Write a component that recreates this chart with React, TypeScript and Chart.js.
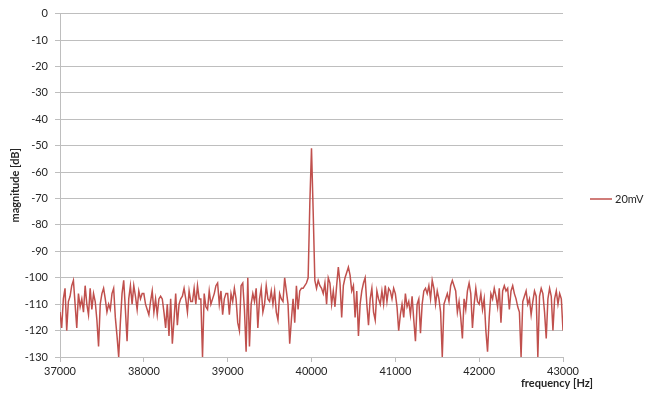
import React, { useEffect, useRef } from "react";
import { Chart, registerables } from "chart.js";

Chart.register(...registerables);

const FREQ_START = 37000;
const FREQ_STEP = 20;
const SERIES_LABEL = "20mV";
const X_TICKS = [37000, 38000, 39000, 40000, 41000, 42000, 43000];
const Y_MIN = -130;
const Y_MAX = 0;

const mag37k = [
  -113, -119, -108, -104, -120, -109, -107, -103, -101, -110,
  -119, -106, -111, -108, -113, -103, -110, -114, -104, -112,
  -106, -109, -116, -126, -110, -106, -104, -108, -113, -110,
  -112, -106, -104, -115, -122, -130, -117, -106, -101, -112,
  -124, -108, -103, -110, -103, -107, -112, -105, -108, -106,
];
const mag38k = [
  -106, -110, -112, -114, -109, -105, -113, -108, -114, -108,
  -107, -108, -113, -119, -110, -122, -108, -125, -116, -106,
  -118, -110, -108, -107, -104, -108, -113, -105, -109, -109,
  -104, -110, -103, -108, -108, -130, -106, -111, -112, -105,
  -110, -108, -106, -103, -102, -110, -105, -114, -108, -106,
];
const mag39k = [
  -106, -114, -106, -109, -104, -108, -117, -120, -103, -102,
  -112, -128, -100, -126, -110, -106, -109, -104, -119, -108,
  -104, -113, -110, -103, -108, -109, -105, -110, -105, -113,
  -116, -106, -108, -109, -100, -105, -110, -125, -116, -108,
  -117, -103, -112, -105, -104, -104, -103, -102, -100, -72,
];
const mag40k = [
  -51, -75, -101, -104, -101, -103, -104, -106, -102, -110,
  -100, -102, -110, -105, -111, -103, -96, -102, -115, -103,
  -100, -98, -96, -99, -105, -103, -115, -105, -122, -110,
  -105, -102, -100, -110, -118, -108, -104, -113, -116, -105,
  -108, -110, -105, -110, -103, -109, -104, -105, -108, -104,
];
const mag41k = [
  -106, -111, -120, -114, -110, -115, -106, -111, -109, -114,
  -107, -116, -124, -110, -108, -121, -110, -105, -104, -106,
  -103, -108, -101, -104, -110, -105, -108, -113, -130, -110,
  -108, -106, -109, -103, -101, -103, -105, -113, -109, -115,
  -123, -108, -112, -105, -102, -106, -119, -110, -104, -109,
];
const mag42k = [
  -110, -106, -112, -108, -120, -128, -115, -106, -108, -104,
  -107, -111, -104, -117, -105, -103, -105, -104, -112, -105,
  -103, -106, -108, -111, -113, -130, -109, -107, -105, -110,
  -108, -114, -109, -105, -107, -130, -107, -104, -106, -113,
  -123, -108, -104, -107, -120, -108, -105, -110, -106, -108,
  -120,
];

const magnitudes = [...mag37k, ...mag38k, ...mag39k, ...mag40k, ...mag41k, ...mag42k];

const LINE_COLOR = "#C0504D";
const GRID_COLOR = "#BEBEBE";
const TEXT_COLOR = "#262626";
const FONT = "Lato, 'Open Sans', sans-serif";

const overlayPlugin = {
  id: "overlay",
  afterDraw(chart: any) {
    const ctx = chart.ctx as CanvasRenderingContext2D;
    const area = chart.chartArea;
    ctx.save();
    ctx.fillStyle = TEXT_COLOR;
    ctx.font = `bold 11px ${FONT}`;
    ctx.textAlign = "center";
    ctx.textBaseline = "middle";
    // y title
    ctx.save();
    ctx.translate(15, (area.top + area.bottom) / 2);
    ctx.rotate(-Math.PI / 2);
    ctx.fillText("magnitude [dB]", 0, 0);
    ctx.restore();
    // x title
    ctx.fillText("frequency [Hz]", 557, 383);
    // legend
    ctx.strokeStyle = LINE_COLOR;
    ctx.lineWidth = 1.5;
    ctx.beginPath();
    ctx.moveTo(590, 199);
    ctx.lineTo(612, 199);
    ctx.stroke();
    ctx.font = `11px ${FONT}`;
    ctx.textAlign = "left";
    ctx.fillText(SERIES_LABEL, 615, 199);
    ctx.restore();
  },
};

export default function App() {
  const ref = useRef<HTMLCanvasElement | null>(null);
  useEffect(() => {
    if (!ref.current) return;
    const data = magnitudes.map((v, i) => ({ x: FREQ_START + i * FREQ_STEP, y: v }));
    const chart = new Chart(ref.current, {
      type: "line",
      data: {
        datasets: [
          {
            label: SERIES_LABEL,
            data,
            borderColor: LINE_COLOR,
            backgroundColor: LINE_COLOR,
            borderWidth: 1.5,
            pointRadius: 0,
            tension: 0,
          },
        ],
      },
      options: {
        responsive: false,
        animation: false,
        layout: { padding: { left: 0, right: 91, top: 13, bottom: 0 } },
        plugins: { legend: { display: false }, tooltip: { enabled: false } },
        scales: {
          x: {
            type: "linear",
            min: X_TICKS[0],
            max: X_TICKS[X_TICKS.length - 1],
            afterBuildTicks: (s: any) => {
              s.ticks = X_TICKS.map((v) => ({ value: v }));
            },
            afterFit: (s: any) => {
              s.height = 37;
            },
            ticks: {
              font: { family: FONT, size: 11 },
              color: TEXT_COLOR,
              padding: 3,
              maxRotation: 0,
              callback: (v: any) => String(v),
            },
            grid: {
              drawOnChartArea: false,
              drawTicks: true,
              tickLength: 5,
              color: GRID_COLOR,
            },
            border: { color: GRID_COLOR },
          },
          y: {
            min: Y_MIN,
            max: Y_MAX,
            afterFit: (s: any) => {
              s.width = 60;
            },
            ticks: {
              stepSize: 10,
              font: { family: FONT, size: 11 },
              color: TEXT_COLOR,
              padding: 7,
            },
            grid: {
              color: GRID_COLOR,
              tickLength: 5,
            },
            border: { color: GRID_COLOR },
          },
        },
      },
      plugins: [overlayPlugin],
    });
    return () => chart.destroy();
  }, []);
  return (
    <div style={{ position: "fixed", left: 0, top: 0, width: 654, height: 394, background: "#fff" }}>
      <canvas ref={ref} width={654} height={394} />
    </div>
  );
}
